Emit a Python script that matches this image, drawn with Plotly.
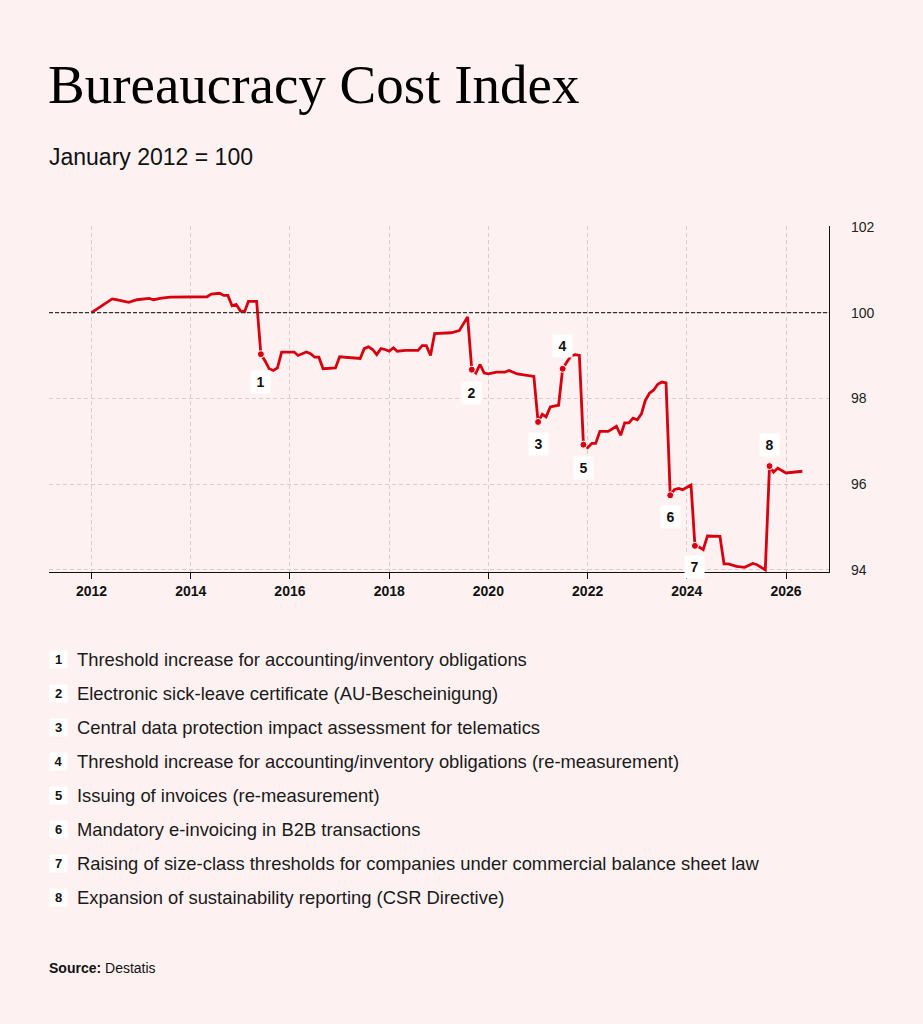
import plotly.graph_objects as go

# Bureaucracy cost index, January 2012 = 100
months = [
    "2012-01", "2012-06", "2012-07", "2012-08", "2012-10", "2012-12", "2013-03", "2013-04",
    "2013-06", "2013-08", "2013-12", "2014-05", "2014-06", "2014-08", "2014-09", "2014-10",
    "2014-11", "2014-12", "2015-01", "2015-02", "2015-03", "2015-05", "2015-06", "2015-07",
    "2015-08", "2015-09", "2015-10", "2015-11", "2016-02", "2016-03", "2016-05", "2016-06",
    "2016-07", "2016-08", "2016-09", "2016-12", "2017-01", "2017-06", "2017-07", "2017-08",
    "2017-09", "2017-10", "2017-11", "2017-12", "2018-01", "2018-02", "2018-03", "2018-05",
    "2018-08", "2018-09", "2018-10", "2018-11", "2018-12", "2019-04", "2019-06", "2019-08",
    "2019-09", "2019-10", "2019-11", "2019-12", "2020-01", "2020-03", "2020-05", "2020-06",
    "2020-08", "2020-12", "2021-01", "2021-02", "2021-03", "2021-04", "2021-06", "2021-07",
    "2021-08", "2021-09", "2021-10", "2021-11", "2021-12", "2022-01", "2022-02", "2022-03",
    "2022-04", "2022-06", "2022-08", "2022-09", "2022-10", "2022-11", "2022-12", "2023-01",
    "2023-02", "2023-03", "2023-04", "2023-05", "2023-06", "2023-07", "2023-08", "2023-09",
    "2023-10", "2023-11", "2023-12", "2024-02", "2024-03", "2024-04", "2024-05", "2024-06",
    "2024-09", "2024-10", "2024-11", "2025-01", "2025-03", "2025-05", "2025-06", "2025-08",
    "2025-09", "2025-10", "2025-11", "2026-01", "2026-05",
]
index_values = [
    100.00, 100.32, 100.30, 100.28, 100.24, 100.30, 100.33, 100.30,
    100.34, 100.36, 100.36, 100.37, 100.43, 100.45, 100.40, 100.40,
    100.16, 100.19, 100.04, 100.02, 100.26, 100.26, 99.03, 98.88,
    98.69, 98.65, 98.71, 99.08, 99.08, 99.00, 99.08, 99.04,
    98.96, 98.96, 98.69, 98.71, 98.97, 98.93, 99.16, 99.20,
    99.14, 99.02, 99.16, 99.14, 99.10, 99.18, 99.10, 99.12,
    99.12, 99.23, 99.23, 99.00, 99.51, 99.53, 99.58, 99.90,
    98.67, 98.59, 98.79, 98.59, 98.57, 98.61, 98.61, 98.65,
    98.57, 98.51, 97.45, 97.63, 97.57, 97.80, 97.84, 98.69,
    98.85, 98.99, 99.02, 99.00, 96.92, 96.85, 96.95, 96.95,
    97.23, 97.23, 97.35, 97.14, 97.43, 97.43, 97.54, 97.50,
    97.64, 97.95, 98.12, 98.19, 98.33, 98.38, 98.36, 95.74,
    95.87, 95.90, 95.87, 95.98, 94.56, 94.53, 94.47, 94.79,
    94.78, 94.14, 94.14, 94.08, 94.06, 94.15, 94.12, 94.00,
    96.42, 96.28, 96.37, 96.26, 96.30,
]

event_months = ["2015-06", "2019-09", "2021-01", "2021-07", "2021-12", "2023-09", "2024-03", "2025-09"]
event_labels = ["1", "2", "3", "4", "5", "6", "7", "8"]
event_texts = [
    "Threshold increase for accounting/inventory obligations",
    "Electronic sick-leave certificate (AU-Bescheinigung)",
    "Central data protection impact assessment for telematics",
    "Threshold increase for accounting/inventory obligations (re-measurement)",
    "Issuing of invoices (re-measurement)",
    "Mandatory e-invoicing in B2B transactions",
    "Raising of size-class thresholds for companies under commercial balance sheet law",
    "Expansion of sustainability reporting (CSR Directive)",
]
event_values = [index_values[months.index(m)] for m in event_months]

# pixel offset of each label box from its point (negative = below)
label_shift = [-28, -23, -22, 23, -23, -22, -21, 21]

BG = "#fdf1f1"
RED = "#d7000f"
SANS = "Liberation Sans, Arial, sans-serif"
SERIF = "Liberation Serif, Times New Roman, serif"

# plot area in pixels: x 49..829, y 226..572
L, R, T, B = 49, 829, 226, 572


def px_x(p):
    return (p - L) / (R - L)


def px_y(p):
    return (B - p) / (B - T)


fig = go.Figure()

fig.add_trace(go.Scatter(
    x=months, y=index_values, mode="lines",
    line=dict(color=RED, width=2.8), hoverinfo="skip",
))
fig.add_trace(go.Scatter(
    x=event_months, y=event_values, mode="markers",
    marker=dict(color=RED, size=7, line=dict(color="white", width=1)),
    hoverinfo="skip",
))

# reference line at 100
fig.add_hline(y=100, line=dict(color="#333333", width=1.2, dash="4px,2px"))

annotations = []
for m, v, lab, sh in zip(event_months, event_values, event_labels, label_shift):
    annotations.append(dict(
        x=m, y=v, xref="x", yref="y", text="<b>" + lab + "</b>",
        showarrow=False, yshift=sh,
        bgcolor="white", borderpad=2, width=15, height=18,
        font=dict(family=SANS, size=14, color="#111111"),
    ))

# numbered list under the chart
row0, step = 659, 34
for i, (lab, txt) in enumerate(zip(event_labels, event_texts)):
    yy = px_y(row0 + i * step)
    annotations.append(dict(
        x=px_x(58), y=yy, xref="paper", yref="paper", text="<b>" + lab + "</b>",
        showarrow=False, bgcolor="white", width=15, height=15, borderpad=1,
        xanchor="center", yanchor="middle",
        font=dict(family=SANS, size=13, color="#111111"),
    ))
    annotations.append(dict(
        x=px_x(75), y=yy, xref="paper", yref="paper", text=txt,
        showarrow=False, xanchor="left", yanchor="middle",
        font=dict(family=SANS, size=18.4, color="#1a1a1a"),
    ))

annotations += [
    dict(x=px_x(46), y=px_y(84), xref="paper", yref="paper", text="Bureaucracy Cost Index",
         showarrow=False, xanchor="left", yanchor="middle",
         font=dict(family=SERIF, size=55, color="#000000")),
    dict(x=px_x(47), y=px_y(157), xref="paper", yref="paper", text="January 2012 = 100",
         showarrow=False, xanchor="left", yanchor="middle",
         font=dict(family=SANS, size=23, color="#111111")),
    dict(x=px_x(47), y=px_y(968), xref="paper", yref="paper", text="<b>Source:</b> Destatis",
         showarrow=False, xanchor="left", yanchor="middle",
         font=dict(family=SANS, size=14, color="#111111")),
]

fig.update_layout(
    width=923, height=1024,
    margin=dict(l=L, r=923 - R, t=T, b=1024 - B),
    paper_bgcolor=BG, plot_bgcolor=BG,
    showlegend=False,
    annotations=annotations,
    xaxis=dict(
        range=["2011-02-22", "2026-11-13"],
        tick0="2012-01-01", dtick="M24", tickformat="%Y",
        showgrid=True, gridcolor="#d8cdcd", griddash="4px,3px", gridwidth=1,
        showline=True, linecolor="#111111", linewidth=1.2,
        ticks="outside", ticklen=6, tickcolor="#111111",
        tickfont=dict(family=SANS, size=14, color="#111111", weight="bold"),
        zeroline=False,
    ),
    yaxis=dict(
        range=[93.95, 102.02], side="right",
        tickvals=[94, 96, 98, 100, 102],
        showgrid=True, gridcolor="#d8cdcd", griddash="4px,3px", gridwidth=1,
        showline=True, linecolor="#111111", linewidth=1.2,
        ticks="", ticklabelstandoff=18,
        tickfont=dict(family=SANS, size=14, color="#222222"),
        zeroline=False,
    ),
)

# drop the page margin so the figure sits at the top-left corner
fig.write_html("out.html", config={"displayModeBar": False}, post_script=(
    "document.body.style.margin='0';"
    "document.body.style.background='" + BG + "';"
))
